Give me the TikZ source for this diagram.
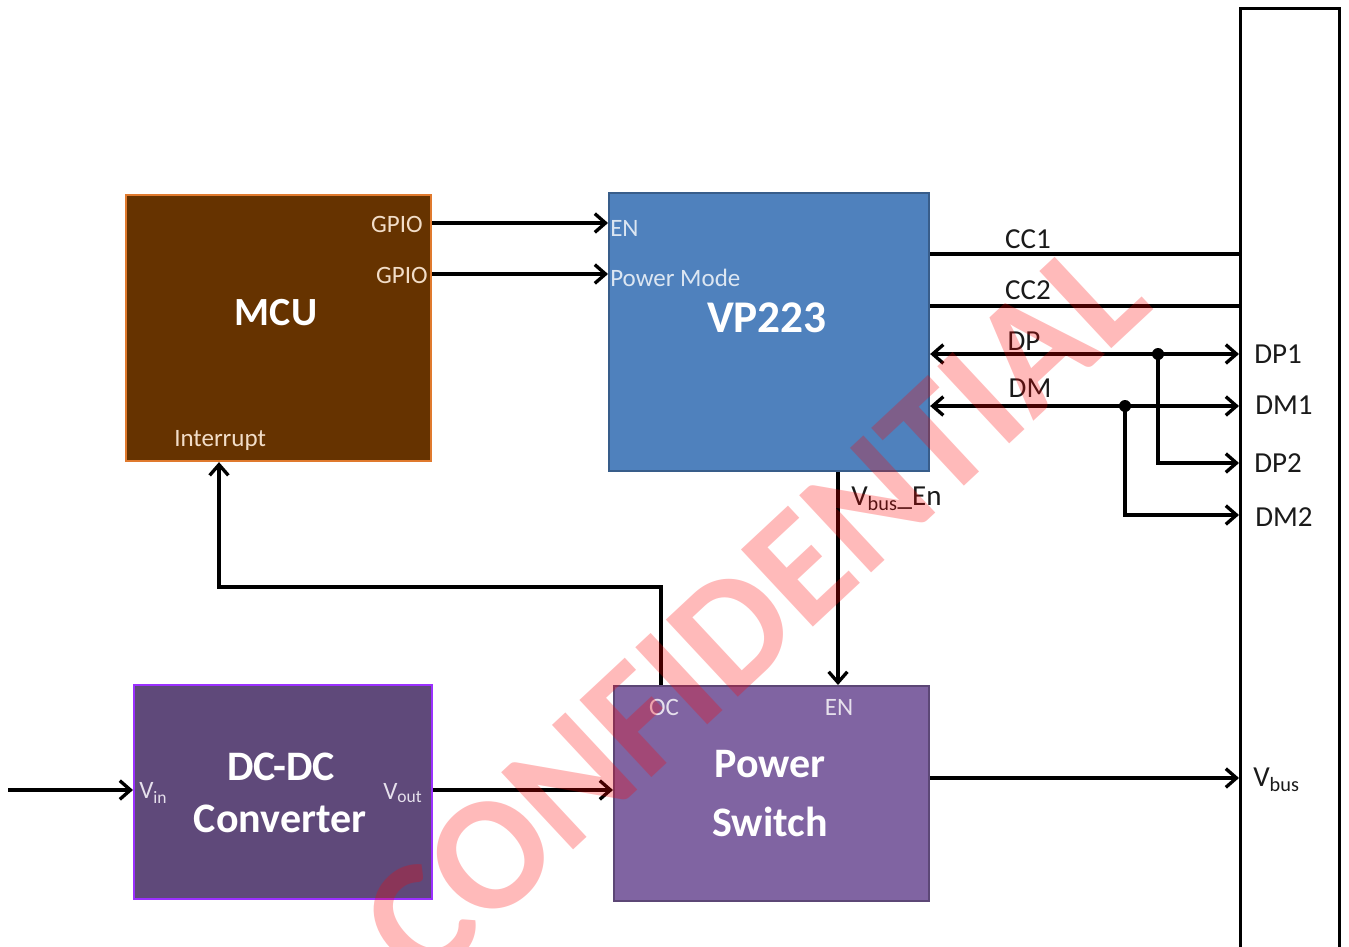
\documentclass[tikz,border=0pt]{standalone}
\usepackage{fontspec}
\setmainfont{Carlito}
\usetikzlibrary{arrows.meta,calc}
\newdimen\pxu \pxu=0.75pt
\definecolor{mcufill}{HTML}{663300}
\definecolor{mculine}{HTML}{E07A2E}
\definecolor{vpfill}{HTML}{4F81BD}
\definecolor{vpline}{HTML}{385D8A}
\definecolor{dcfill}{HTML}{5F497A}
\definecolor{dcline}{HTML}{9B30FF}
\definecolor{psfill}{HTML}{8064A2}
\definecolor{psline}{HTML}{5C4776}
\definecolor{mcutext}{HTML}{F2DDC8}
\definecolor{vptext}{HTML}{DCE6F2}
\definecolor{pstext}{HTML}{E6E0EC}
\definecolor{inktext}{HTML}{1A1A1A}
\begin{document}
\begin{tikzpicture}[x=0.75pt,y=-0.75pt,
  box/.style={draw, line width=1.6pt, anchor=north west, inner sep=0pt},
  wire/.style={line width=2.5pt, draw=black},
  arr/.style={wire, -{Straight Barb[length=8pt,width=14pt]}},
  dbl/.style={wire, {Straight Barb[length=8pt,width=14pt]}-{Straight Barb[length=8pt,width=14pt]}},
  title/.style={text=white, font=\bfseries\fontsize{31.5pt}{36pt}\selectfont, inner sep=0pt},
  pin/.style={font=\fontsize{18.75pt}{20pt}\selectfont, inner sep=0pt},
  sig/.style={text=inktext, font=\fontsize{21.75pt}{24pt}\selectfont, inner sep=0pt},
  jdot/.style={fill=black}
]
\useasboundingbox (0,0) rectangle (1349,946);
\clip (0,0) rectangle (1349,946);

% blocks
\node[box, fill=mcufill, draw=mculine, minimum width=305\pxu, minimum height=266\pxu] (mcu) at (125,194) {};
\node[box, fill=vpfill, draw=vpline, minimum width=320\pxu, minimum height=278\pxu] (vp) at (608,192) {};
\node[box, fill=dcfill, draw=dcline, minimum width=298\pxu, minimum height=214\pxu] (dcdc) at (133,684) {};
\node[box, fill=psfill, draw=psline, minimum width=315\pxu, minimum height=215\pxu] (ps) at (613,685) {};
\node[box, draw=black, line width=2.4pt, minimum width=99\pxu, minimum height=960\pxu] (usb) at (1239,7) {};

% titles
\node[title, font=\bfseries\fontsize{30pt}{36pt}\selectfont] (mcut) at (276,313) {MCU};
\node[title, font=\bfseries\fontsize{34pt}{40pt}\selectfont] (vpt) at (767,318) {VP223};
\node[title] (dct1) at (281,767) {DC-DC};
\node[title] (dct2) at (280,819) {Converter};
\node[title] (pst1) at (770,764) {Power};
\node[title] (pst2) at (770,822) {Switch};

% pin labels inside blocks
\node[pin, text=mcutext, anchor=east] (gp1) at (423,224) {GPIO};
\node[pin, text=mcutext, anchor=east] (gp2) at (428,275) {GPIO};
\node[pin, text=mcutext, anchor=west] (intl) at (174,440) {Interrupt};
\node[pin, text=vptext, anchor=west] (enl) at (610,228) {EN};
\node[pin, text=vptext, anchor=west] (pml) at (610,278) {Power Mode};
\node[pin, text=pstext] (ocl) at (664,707) {OC};
\node[pin, text=pstext] (psen) at (839,707) {EN};
\node[pin, text=pstext, anchor=west] (vinl) at (139,793) {V\textsubscript{in}};
\node[pin, text=pstext, anchor=west] (voutl) at (383,793) {V\textsubscript{out}};

% connection rows / columns
\coordinate (r1) at (0,223);
\coordinate (r2) at (0,274);
\coordinate (rcc1) at (0,254);
\coordinate (rcc2) at (0,306);
\coordinate (rdp) at (0,354);
\coordinate (rdm) at (0,406);
\coordinate (rdp2) at (0,463);
\coordinate (rdm2) at (0,515);
\coordinate (roc) at (0,587);
\coordinate (rvo) at (0,790);
\coordinate (rvb) at (0,778);
\coordinate (cen) at (838,0);
\coordinate (coc) at (661,0);
\coordinate (cint) at (219,0);
\coordinate (jdp) at (1158,354);
\coordinate (jdm) at (1125,406);
\coordinate (vsrc) at (8,790);

% connectors
\draw[arr] (mcu.east |- r1) -- (vp.west |- r1);
\draw[arr] (mcu.east |- r2) -- (vp.west |- r2);
\draw[wire] (vp.east |- rcc1) -- (usb.west |- rcc1);
\draw[wire] (vp.east |- rcc2) -- (usb.west |- rcc2);
\draw[dbl] (vp.east |- rdp) -- (usb.west |- rdp);
\draw[dbl] (vp.east |- rdm) -- (usb.west |- rdm);
\draw[arr] (jdp) -- (jdp |- rdp2) -- (usb.west |- rdp2);
\draw[arr] (jdm) -- (jdm |- rdm2) -- (usb.west |- rdm2);
\fill[jdot] (jdp) circle (4.5pt);
\fill[jdot] (jdm) circle (4.5pt);
\draw[arr] (vp.south -| cen) -- (ps.north -| cen);
\draw[arr] (ps.north -| coc) -- (coc |- roc) -- (cint |- roc) -- (mcu.south -| cint);
\draw[arr] (vsrc) -- (dcdc.west |- vsrc);
\draw[arr] (dcdc.east |- rvo) -- (ps.west |- rvo);
\draw[arr] (ps.east |- rvb) -- (usb.west |- rvb);

% signal labels
\node[sig] (cc1l) at (1028,239) {CC1};
\node[sig] (cc2l) at (1028,290) {CC2};
\node[sig] (dpl) at (1024,341) {DP};
\node[sig] (dml) at (1030,388) {DM};
\node[sig, anchor=west] (dp1l) at (1254,354) {DP1};
\node[sig, anchor=west] (dm1l) at (1255,405) {DM1};
\node[sig, anchor=west] (dp2l) at (1254,463) {DP2};
\node[sig, anchor=west] (dm2l) at (1255,517) {DM2};
\node[sig, anchor=west] (vbenl) at (851,499) {V\textsubscript{bus}\_En};
\node[sig, anchor=west] (vbusl) at (1253,780) {V\textsubscript{bus}};

% watermark
\node[rotate=43, text=red, opacity=0.27, inner sep=0pt,
      font=\bfseries\fontsize{122pt}{122pt}\selectfont] (wm) at (754,610) {CONFIDENTIAL};
\end{tikzpicture}
\end{document}
